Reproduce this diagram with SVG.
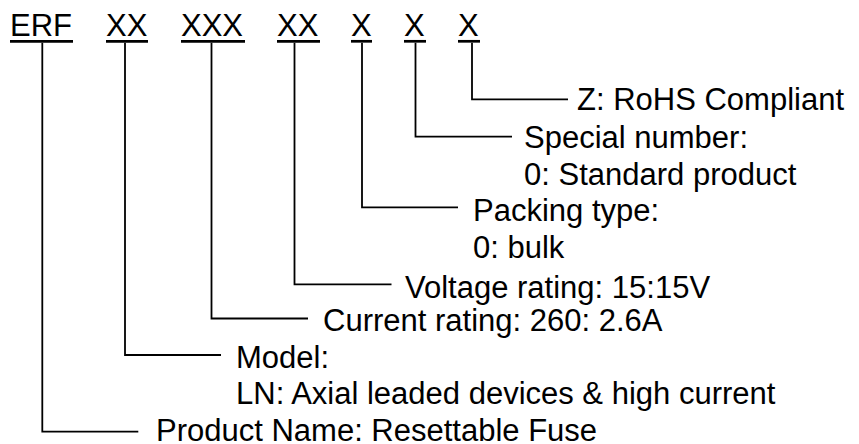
<svg xmlns="http://www.w3.org/2000/svg" width="859" height="444" viewBox="0 0 859 444">
  <style>
    text { font-family: "Liberation Sans", Arial, sans-serif; font-size: 31px; fill: #000; }
    .ul { stroke: #000; stroke-width: 2.7; }
    .conn { fill: none; stroke: #000; stroke-width: 1.8; }
  </style>
  <rect width="859" height="444" fill="#fff"/>
  <g id="code">
    <g id="seg-erf"><text x="10" y="36">ERF</text><line class="ul" x1="10" y1="41.3" x2="73" y2="41.3"/></g>
    <g id="seg-model"><text x="106" y="36">XX</text><line class="ul" x1="106" y1="41.3" x2="148" y2="41.3"/></g>
    <g id="seg-current"><text x="181" y="36">XXX</text><line class="ul" x1="181" y1="41.3" x2="245" y2="41.3"/></g>
    <g id="seg-voltage"><text x="277" y="36">XX</text><line class="ul" x1="277" y1="41.3" x2="320" y2="41.3"/></g>
    <g id="seg-packing"><text x="351" y="36">X</text><line class="ul" x1="351" y1="41.3" x2="372" y2="41.3"/></g>
    <g id="seg-special"><text x="404" y="36">X</text><line class="ul" x1="404" y1="41.3" x2="426" y2="41.3"/></g>
    <g id="seg-rohs"><text x="458" y="36">X</text><line class="ul" x1="458" y1="41.3" x2="480" y2="41.3"/></g>
  </g>
  <g id="connectors">
    <polyline class="conn" points="472,42.7 472,99.3 568,99.3"/>
    <polyline class="conn" points="415.5,42.7 415.5,136.7 512,136.7"/>
    <polyline class="conn" points="362,42.7 362,207.3 458,207.3"/>
    <polyline class="conn" points="294.5,42.7 294.5,284.3 391.5,284.3"/>
    <polyline class="conn" points="211.5,42.7 211.5,318.5 308,318.5"/>
    <polyline class="conn" points="125,42.7 125,355 221,355"/>
    <polyline class="conn" points="42.3,42.7 42.3,431.7 138.3,431.7"/>
  </g>
  <g id="label-rohs"><text x="577" y="110">Z: RoHS Compliant</text></g>
  <g id="label-special"><text x="524" y="148.3">Special number:</text><text x="524" y="185">0: Standard product</text></g>
  <g id="label-packing"><text x="473" y="221">Packing type:</text><text x="473" y="258.3">0: bulk</text></g>
  <g id="label-voltage"><text x="405" y="298.3">Voltage rating: 15:15V</text></g>
  <g id="label-current"><text x="323" y="330.7">Current rating: 260: 2.6A</text></g>
  <g id="label-model"><text x="236" y="368.3">Model:</text><text x="236" y="404">LN: Axial leaded devices &amp; high current</text></g>
  <g id="label-product"><text x="156" y="441">Product Name: Resettable Fuse</text></g>
</svg>
